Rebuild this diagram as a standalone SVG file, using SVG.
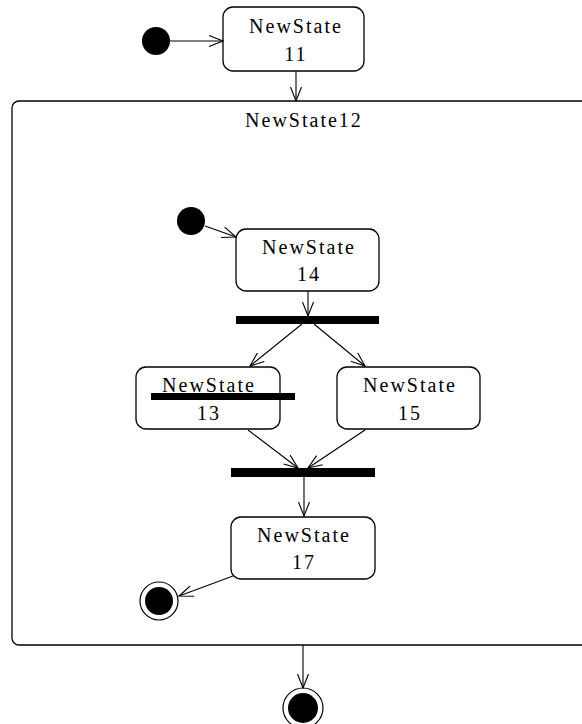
<svg xmlns="http://www.w3.org/2000/svg" width="582" height="724" viewBox="0 0 582 724">
  <style>
    .state { fill: #ffffff; stroke: #000000; stroke-width: 1.3; }
    .label { font-family: "Liberation Serif", "Times New Roman", serif; font-size: 20px; letter-spacing: 2px; fill: #000000; text-anchor: middle; }
    .bar { fill: #000000; }
    .edge { stroke: #000000; stroke-width: 1.1; fill: none; }
    .dot { fill: #000000; }
    .ring { fill: #ffffff; stroke: #000000; stroke-width: 1.2; }
  </style>
  <defs>
    <marker id="open" viewBox="0 0 16 12" refX="15" refY="6" markerWidth="16" markerHeight="12" markerUnits="userSpaceOnUse" orient="auto">
      <path d="M1,0.5 L15,6 L1,11.5" fill="none" stroke="#000000" stroke-width="1.1"/>
    </marker>
  </defs>
  <rect width="582" height="724" fill="#ffffff"/>

  <!-- composite state -->
  <g id="NewState12">
    <rect class="state" x="12" y="101" width="600" height="544" rx="7"/>
    <text class="label" x="304" y="127">NewState12</text>
  </g>

  <g id="init-top">
    <circle class="dot" cx="156" cy="41" r="14"/>
  </g>

  <g id="NewState11">
    <rect class="state" x="223" y="7" width="141" height="64" rx="10"/>
    <text class="label" x="296" y="33">NewState</text>
    <text class="label" x="296" y="61">11</text>
  </g>

  <g id="init-inner">
    <circle class="dot" cx="191" cy="221" r="14"/>
  </g>

  <g id="NewState14">
    <rect class="state" x="236" y="229" width="143" height="62" rx="10"/>
    <text class="label" x="309" y="254">NewState</text>
    <text class="label" x="309" y="281">14</text>
  </g>

  <g id="fork">
    <rect class="bar" x="236" y="316" width="143" height="8"/>
  </g>

  <g id="NewState13">
    <rect class="state" x="136" y="367" width="144" height="62" rx="10"/>
    <text class="label" x="209" y="392">NewState</text>
    <rect class="bar" x="151" y="393" width="144" height="7"/>
    <text class="label" x="209" y="420">13</text>
  </g>

  <g id="NewState15">
    <rect class="state" x="337" y="367" width="143" height="62" rx="10"/>
    <text class="label" x="410" y="392">NewState</text>
    <text class="label" x="410" y="420">15</text>
  </g>

  <g id="join">
    <rect class="bar" x="231" y="468" width="144" height="9"/>
  </g>

  <g id="NewState17">
    <rect class="state" x="231" y="517" width="144" height="62" rx="10"/>
    <text class="label" x="304" y="542">NewState</text>
    <text class="label" x="304" y="569">17</text>
  </g>

  <g id="final-inner">
    <circle class="ring" cx="159" cy="601" r="19"/>
    <circle class="dot" cx="159" cy="601" r="14"/>
  </g>

  <g id="final-outer">
    <circle class="ring" cx="303" cy="708" r="20"/>
    <circle class="dot" cx="303" cy="708" r="15"/>
  </g>

  <!-- transitions -->
  <g id="connectors">
    <line class="edge" x1="170" y1="41" x2="223" y2="41" marker-end="url(#open)"/>
    <line class="edge" x1="296" y1="71" x2="296" y2="101" marker-end="url(#open)"/>
    <line class="edge" x1="205" y1="226" x2="236" y2="237" marker-end="url(#open)"/>
    <line class="edge" x1="308" y1="291" x2="308" y2="316" marker-end="url(#open)"/>
    <line class="edge" x1="302" y1="324" x2="250" y2="366" marker-end="url(#open)"/>
    <line class="edge" x1="314" y1="324" x2="365" y2="366" marker-end="url(#open)"/>
    <line class="edge" x1="248" y1="430" x2="298" y2="468" marker-end="url(#open)"/>
    <line class="edge" x1="365" y1="430" x2="308" y2="468" marker-end="url(#open)"/>
    <line class="edge" x1="304" y1="477" x2="304" y2="516" marker-end="url(#open)"/>
    <line class="edge" x1="233" y1="576" x2="179" y2="596" marker-end="url(#open)"/>
    <line class="edge" x1="303" y1="645" x2="303" y2="688" marker-end="url(#open)"/>
  </g>
</svg>
